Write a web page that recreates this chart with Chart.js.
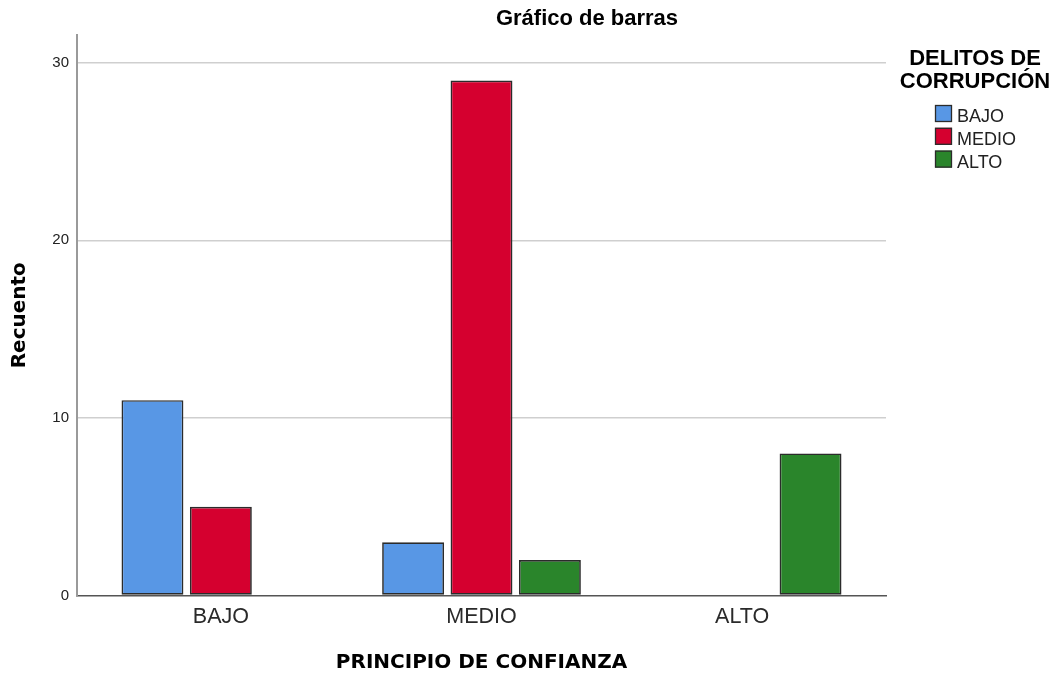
<!DOCTYPE html>
<html>
<head>
<meta charset="utf-8">
<script src="https://cdn.jsdelivr.net/npm/chart.js@4.4.1/dist/chart.umd.min.js"></script>
<style>
  html, body { margin: 0; padding: 0; background: #fff; }
  #wrap { width: 1059px; height: 677px; position: relative; }
</style>
</head>
<body>
<div id="wrap"><canvas id="c"></canvas></div>
<script>
// ---- data ----
const categories = ['BAJO', 'MEDIO', 'ALTO'];
const seriesNames = ['BAJO', 'MEDIO', 'ALTO'];
const seriesBajo = [11, 3, 0];
const seriesMedio = [5, 29, 0];
const seriesAlto = [0, 2, 8];
const yTicks = [0, 10, 20, 30];
const yMax = 31.56;
const chartTitle = 'Gráfico de barras';
const legendTitle = ['DELITOS DE', 'CORRUPCIÓN'];
const xTitle = 'PRINCIPIO DE CONFIANZA';
const yTitle = 'Recuento';
const colors = ['#5897e5', '#d5002f', '#2a852b'];

// category scale with custom outer margin
class PaddedCategory extends Chart.CategoryScale {
  configure() {
    super.configure();
    this._startValue = -0.552;
    this._valueRange = (this.max - this.min) + 1.104;
  }
}
PaddedCategory.id = 'paddedCategory';
PaddedCategory.defaults = Chart.CategoryScale.defaults;
Chart.register(PaddedCategory);

const titlePlugin = {
  id: 'customTitle',
  afterDraw(chart) {
    const ctx = chart.ctx;
    ctx.save();
    ctx.font = 'bold 22px "Liberation Sans", Arial, sans-serif';
    ctx.fillStyle = '#000';
    ctx.textAlign = 'center';
    ctx.textBaseline = 'alphabetic';
    ctx.fillText(chartTitle, 587, 25);
    ctx.restore();
  }
};

const legendPlugin = {
  id: 'customLegend',
  afterDraw(chart) {
    const ctx = chart.ctx;
    const ca = chart.chartArea;
    ctx.save();
    ctx.font = 'bold 22px "Liberation Sans", Arial, sans-serif';
    ctx.fillStyle = '#000';
    ctx.textAlign = 'center';
    ctx.textBaseline = 'alphabetic';
    const cx = ca.right + 89;
    legendTitle.forEach((t, i) => ctx.fillText(t, cx, 65 + i * 22.5));
    ctx.font = '18px "Liberation Sans", Arial, sans-serif';
    ctx.textAlign = 'left';
    chart.data.datasets.forEach((ds, i) => {
      const y = 105 + i * 22.8;
      ctx.fillStyle = ds.backgroundColor;
      ctx.fillRect(ca.right + 49, y, 17, 17);
      ctx.strokeStyle = '#2b2b2b';
      ctx.lineWidth = 1.3;
      ctx.strokeRect(ca.right + 49.5, y + 0.5, 16, 16);
      ctx.fillStyle = '#222';
      ctx.fillText(ds.label, ca.right + 71, y + 17);
    });
    ctx.restore();
  }
};

const datasets = [seriesBajo, seriesMedio, seriesAlto].map((d, i) => ({
  label: seriesNames[i],
  data: d,
  backgroundColor: colors[i],
  borderColor: '#2b2b2b',
  borderWidth: 1.7,
  borderSkipped: false,
  categoryPercentage: 0.7874,
  barPercentage: 0.905
}));

new Chart(document.getElementById('c'), {
  type: 'bar',
  data: { labels: categories, datasets },
  options: {
    responsive: true,
    maintainAspectRatio: false,
    animation: false,
    layout: { padding: { top: 35, right: 173, bottom: 0, left: 0 } },
    plugins: {
      legend: { display: false },
      title: { display: false },
      tooltip: { enabled: false }
    },
    scales: {
      x: {
        type: 'paddedCategory',
        offset: false,
        grid: { display: false, drawTicks: false },
        border: { display: true, color: '#555', width: 1.5 },
        ticks: {
          color: '#2a2a2a',
          padding: 8.5,
          font: { family: '"Liberation Sans", Arial, sans-serif', size: 21.5 }
        },
        title: {
          display: true,
          text: xTitle,
          color: '#000',
          font: { family: '"DejaVu Sans", sans-serif', size: 20, weight: 'bold' },
          padding: { top: 0, bottom: 2.6 }
        },
        afterFit(scale) { scale.height = 81.5; }
      },
      y: {
        min: 0,
        max: yMax,
        afterBuildTicks(scale) { scale.ticks = yTicks.map(v => ({ value: v })); },
        grid: {
          drawTicks: false,
          color: (c) => (c.tick && c.tick.value === 0) ? 'rgba(0,0,0,0)' : '#cfcfcf',
          lineWidth: 1.6
        },
        border: { display: true, color: '#9a9a9a', width: 2 },
        ticks: {
          color: '#222',
          padding: 8,
          font: { family: '"Liberation Sans", Arial, sans-serif', size: 15 }
        },
        title: {
          display: true,
          text: yTitle,
          color: '#000',
          font: { family: '"DejaVu Sans", sans-serif', size: 20, weight: 'bold' },
          padding: { top: 8, bottom: 0 }
        },
        afterFit(scale) { scale.width = 77; }
      }
    }
  },
  plugins: [titlePlugin, legendPlugin]
});
</script>
</body>
</html>
